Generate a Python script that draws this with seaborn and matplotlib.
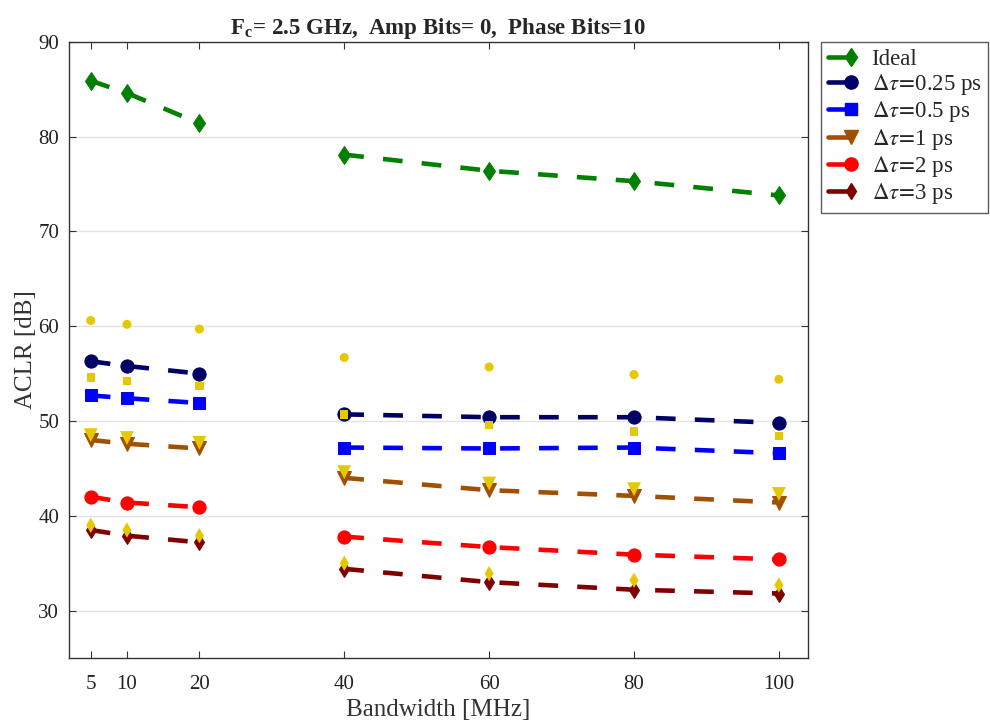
import numpy as np
import pandas as pd
import matplotlib
matplotlib.use("Agg")
import matplotlib.pyplot as plt
from matplotlib.lines import Line2D
from matplotlib.legend_handler import HandlerLine2D
import seaborn as sns

# bandwidths (MHz); lines are broken between 20 and 40
bandwidth = [5, 10, 20, 40, 60, 80, 100]
segment = [0, 0, 0, 1, 1, 1, 1]

labels = ["Ideal", r"$\Delta\tau\!=\!$0.25 ps", r"$\Delta\tau\!=\!$0.5 ps",
          r"$\Delta\tau\!=\!$1 ps", r"$\Delta\tau\!=\!$2 ps", r"$\Delta\tau\!=\!$3 ps"]

aclr_ideal = [85.9, 84.6, 81.4, 78.1, 76.4, 75.3, 73.8]
aclr_025 = [56.3, 55.8, 55.0, 50.7, 50.4, 50.4, 49.8]
aclr_05 = [52.7, 52.4, 51.9, 47.2, 47.1, 47.2, 46.6]
aclr_1 = [48.0, 47.6, 47.1, 44.0, 42.7, 42.1, 41.4]
aclr_2 = [42.0, 41.4, 40.9, 37.8, 36.7, 35.9, 35.4]
aclr_3 = [38.5, 37.9, 37.2, 34.4, 33.0, 32.2, 31.8]

# yellow reference points (no lines)
ref_025 = [60.6, 60.2, 59.7, 56.7, 55.7, 54.9, 54.4]
ref_05 = [54.6, 54.2, 53.7, 50.7, 49.6, 48.9, 48.4]
ref_1 = [48.5, 48.2, 47.7, 44.6, 43.4, 42.8, 42.3]
ref_3 = [39.0, 38.5, 37.9, 35.0, 33.9, 33.2, 32.7]

series = [aclr_ideal, aclr_025, aclr_05, aclr_1, aclr_2, aclr_3]
colors = ["#008000", "#000066", "#0000ff", "#a05000", "#ff0000", "#800000"]
markers = ["d", "o", "s", "v", "o", "d"]
msizes = [9.4, 9.5, 9, 10, 9.5, 8.6]

refs = [ref_025, ref_05, ref_1, ref_3]
ref_markers = ["o", "s", "v", "d"]
ref_sizes = [42, 36, 100, 60]
yellow = "#e6c800"

dash = (0, (4.3, 4.2))


class EndMarkerHandler(HandlerLine2D):
    # matlab-like legend entry: short line with the marker at its right end
    def create_artists(self, legend, orig_handle, xdescent, ydescent,
                       width, height, fontsize, trans):
        y = height / 2 - ydescent
        x0 = -xdescent
        x1 = x0 + width * 0.72
        ln = Line2D([x0, x1], [y, y], color=orig_handle.get_color(),
                    linewidth=orig_handle.get_linewidth())
        mk = Line2D([x1], [y], linestyle="none",
                    marker=orig_handle.get_marker(),
                    markersize=orig_handle.get_markersize(),
                    color=orig_handle.get_color())
        ln.set_transform(trans)
        mk.set_transform(trans)
        return [ln, mk]


sns.set_style("ticks")
plt.rcParams["font.family"] = ["Liberation Serif", "DejaVu Serif"]
plt.rcParams["mathtext.fontset"] = "stix"

fig = plt.figure(figsize=(9.9, 7.24), dpi=100)
ax = fig.add_axes([0.0697, 0.0912, 0.7463, 0.851])

handles = []
for vals, lab, c, m, ms in zip(series, labels, colors, markers, msizes):
    df = pd.DataFrame({"bw": bandwidth, "aclr": vals, "seg": segment})
    sns.lineplot(data=df, x="bw", y="aclr", units="seg", estimator=None,
                 color=c, marker=m, markersize=ms, markeredgecolor=c,
                 linewidth=3.3, ax=ax, zorder=3)
    handles.append(Line2D([], [], color=c, marker=m, markersize=ms,
                          linewidth=3.3, label=lab))
for line in ax.lines:
    line.set_linestyle(dash)

for vals, m, s in zip(refs, ref_markers, ref_sizes):
    sns.scatterplot(x=bandwidth, y=vals, marker=m, s=s, color=yellow,
                    edgecolor="none", ax=ax, zorder=4, legend=False)

ax.set_xlim(2, 104)
ax.set_ylim(25, 90)
ax.set_xticks(bandwidth)
ax.set_yticks([30, 40, 50, 60, 70, 80, 90])
ax.yaxis.grid(True, color="#e3e3e3", linewidth=1)
ax.set_axisbelow(True)
ax.tick_params(direction="in", top=True, right=True, labelsize=15,
               length=5, color="#333333", labelcolor="#222222")
ax.tick_params(axis="x", pad=12)
ax.tick_params(axis="y", pad=7)
for sp in ax.spines.values():
    sp.set_color("#333333")
    sp.set_linewidth(1)

ax.set_xlabel("Bandwidth [MHz]", fontsize=18, color="#333333", labelpad=4)
ax.set_ylabel("ACLR [dB]", fontsize=18, color="#333333", labelpad=1)
ax.set_title(r"F$_\mathregular{c}$= 2.5 GHz,  Amp Bits= 0,  Phase Bits=10",
             fontsize=16.5, fontweight="bold", pad=6)

leg = ax.legend(handles=handles, loc="upper left", bbox_to_anchor=(1.018, 1.0),
                fontsize=16.5, frameon=True, fancybox=False, edgecolor="#333333",
                handlelength=1.4, handletextpad=0.5, labelspacing=0.1,
                borderpad=0.3, borderaxespad=0,
                handler_map={Line2D: EndMarkerHandler()})
leg.get_frame().set_linewidth(1)

fig.savefig("out.png", dpi=100)
